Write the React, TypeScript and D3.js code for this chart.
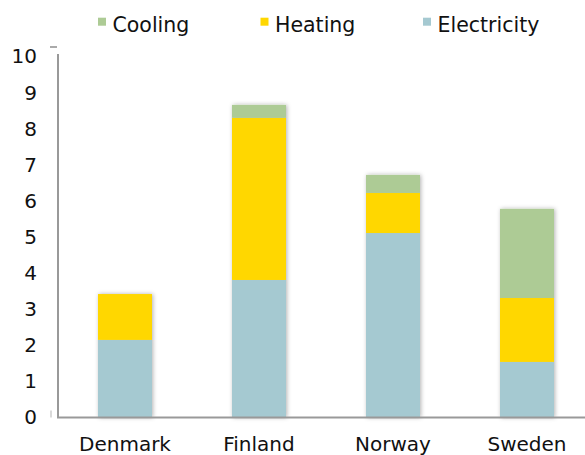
import React, { useEffect, useRef } from 'react';
import * as d3 from 'd3';

const countries = ['Denmark', 'Finland', 'Norway', 'Sweden'];
const electricity = [2.15, 3.81, 5.11, 1.54];
const heating = [1.27, 4.49, 1.11, 1.77];
const cooling = [0, 0.36, 0.5, 2.47];
const yTicks = [0, 1, 2, 3, 4, 5, 6, 7, 8, 9, 10];
const legendLabels = ['Cooling', 'Heating', 'Electricity'];

const colors: Record<string, string> = {
  Electricity: '#a5c9d1',
  Heating: '#ffd700',
  Cooling: '#adcb95'
};

const width = 585;
const height = 455;
const font = '"DejaVu Sans", Verdana, sans-serif';

const App: React.FC = () => {
  const svgRef = useRef<SVGSVGElement>(null);

  useEffect(() => {
    if (!svgRef.current) return;
    const svg = d3.select(svgRef.current);
    svg.selectAll('*').remove();

    // Shadow under bars
    const defs = svg.append('defs');
    const filter = defs.append('filter')
      .attr('id', 'barShadow')
      .attr('x', '-20%').attr('y', '-5%')
      .attr('width', '140%').attr('height', '110%');
    filter.append('feDropShadow')
      .attr('dx', 1).attr('dy', 0)
      .attr('stdDeviation', 2)
      .attr('flood-color', '#000')
      .attr('flood-opacity', 0.3);

    const x = d3.scaleBand<string>()
      .domain(countries)
      .range([58, 594])
      .paddingInner(0.597)
      .paddingOuter(0.2985);

    const y = d3.scaleLinear()
      .domain([0, 10])
      .range([417.5, 56.5]);

    const rows = countries.map((c, i) => ({
      country: c,
      Electricity: electricity[i],
      Heating: heating[i],
      Cooling: cooling[i]
    }));

    const stack = d3.stack<any>().keys(['Electricity', 'Heating', 'Cooling']);
    const series = stack(rows);

    // Bars
    const barsG = svg.append('g').attr('filter', 'url(#barShadow)');
    series.forEach(s => {
      barsG.append('g')
        .attr('fill', colors[s.key])
        .selectAll('rect')
        .data(s.filter(d => d[1] - d[0] > 0))
        .join('rect')
        .attr('x', d => x(d.data.country)!)
        .attr('width', x.bandwidth())
        .attr('y', d => y(d[1]))
        .attr('height', d => y(d[0]) - y(d[1]));
    });

    // Y axis
    const yAxis = svg.append('g')
      .attr('transform', 'translate(58,0)')
      .call(d3.axisLeft(y).tickValues(yTicks).tickSize(0).tickPadding(21).tickFormat(d3.format('d')));
    yAxis.select('.domain')
      .attr('stroke', '#999')
      .attr('stroke-width', 2)
      .attr('d', `M0,${y(0)}V54`);
    yAxis.selectAll('text')
      .attr('font-family', font)
      .attr('font-size', 20)
      .attr('fill', '#111');

    // small tick marks
    svg.append('line')
      .attr('x1', 50).attr('x2', 57)
      .attr('y1', 47).attr('y2', 47)
      .attr('stroke', '#aaa').attr('stroke-width', 2);
    svg.append('line')
      .attr('x1', 51).attr('x2', 51)
      .attr('y1', y(0) - 7).attr('y2', y(0))
      .attr('stroke', '#ccc').attr('stroke-width', 1.5);

    // X axis
    const xAxis = svg.append('g')
      .attr('transform', `translate(0,${y(0)})`)
      .call(d3.axisBottom(x).tickSize(0));
    xAxis.select('.domain')
      .attr('stroke', '#999')
      .attr('stroke-width', 2)
      .attr('d', `M57,0H${width}`);
    xAxis.selectAll('text')
      .attr('font-family', font)
      .attr('font-size', 20)
      .attr('fill', '#111')
      .attr('dy', null)
      .attr('y', 33.5);

    // Legend
    const lx = d3.scaleLinear().domain([0, legendLabels.length - 1]).range([98, 423]);
    const legend = svg.append('g');
    legendLabels.forEach((label, i) => {
      const g = legend.append('g').attr('transform', `translate(${lx(i)},0)`);
      g.append('rect')
        .attr('x', 0).attr('y', 17.7)
        .attr('width', 8).attr('height', 8)
        .attr('fill', colors[label]);
      g.append('text')
        .attr('x', 14.5).attr('y', 32.3)
        .attr('font-family', font)
        .attr('font-size', 20.5)
        .attr('fill', '#111')
        .text(label);
    });
  }, []);

  return (
    <svg
      ref={svgRef}
      width={width}
      height={height}
      style={{ position: 'absolute', left: 0, top: 0, background: '#fff' }}
    />
  );
};

export default App;
